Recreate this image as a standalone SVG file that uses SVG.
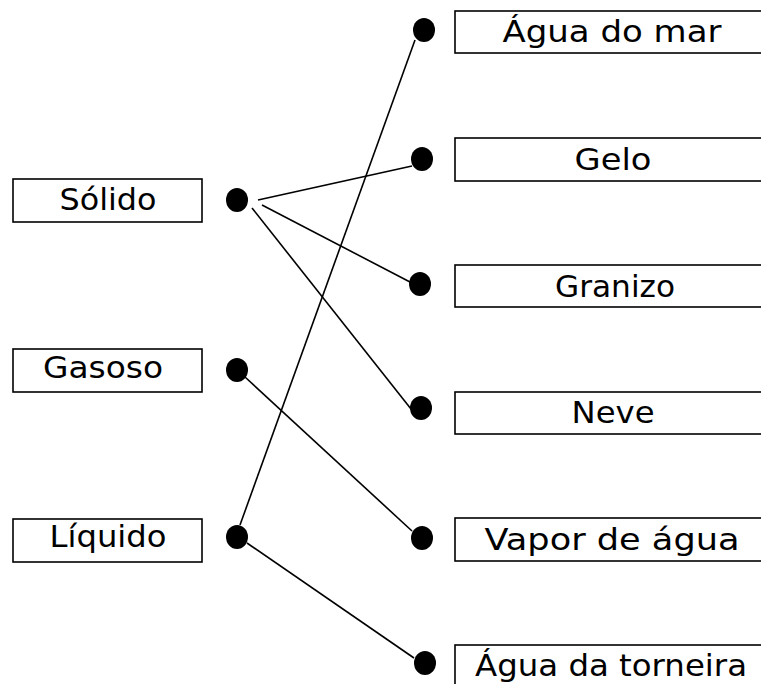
<svg xmlns="http://www.w3.org/2000/svg" width="761" height="684" viewBox="0 0 761 684">
<style>
.box{fill:#fff;stroke:#000;stroke-width:1.6}
.lbl{font-family:"DejaVu Sans","Liberation Sans",sans-serif;font-size:31px;fill:#000;text-anchor:middle}
.dot{fill:#000}
.con line{stroke:#000;stroke-width:1.6;fill:none}
</style>
<rect width="761" height="684" fill="#fff"/>
<g class="con" id="connectors">
<line x1="258" y1="200" x2="412" y2="166"/>
<line x1="262" y1="205" x2="410" y2="282"/>
<line x1="252" y1="208" x2="411" y2="409"/>
<line x1="245" y1="377" x2="412" y2="531"/>
<line x1="240" y1="525" x2="415" y2="40"/>
<line x1="247" y1="543" x2="414" y2="658"/>
</g>
<g id="solido"><rect class="box" x="13" y="179" width="189" height="43"/><text class="lbl" x="108" y="210" textLength="97" lengthAdjust="spacingAndGlyphs">Sólido</text><ellipse class="dot" cx="237" cy="200" rx="11" ry="12"/></g>
<g id="gasoso"><rect class="box" x="13" y="349" width="189" height="43"/><text class="lbl" x="103" y="378" textLength="120" lengthAdjust="spacingAndGlyphs">Gasoso</text><ellipse class="dot" cx="237" cy="370" rx="11" ry="12"/></g>
<g id="liquido"><rect class="box" x="13" y="519" width="189" height="43"/><text class="lbl" x="108" y="547" textLength="117" lengthAdjust="spacingAndGlyphs">Líquido</text><ellipse class="dot" cx="237" cy="537" rx="11" ry="12"/></g>
<g id="agua-mar"><rect class="box" x="455" y="11" width="320" height="42"/><text class="lbl" x="612" y="42" textLength="219" lengthAdjust="spacingAndGlyphs">Água do mar</text><ellipse class="dot" cx="424" cy="30" rx="11" ry="12"/></g>
<g id="gelo"><rect class="box" x="455" y="138" width="320" height="43"/><text class="lbl" x="613" y="170" textLength="77" lengthAdjust="spacingAndGlyphs">Gelo</text><ellipse class="dot" cx="422" cy="159" rx="11" ry="12"/></g>
<g id="granizo"><rect class="box" x="455" y="265" width="320" height="42"/><text class="lbl" x="615" y="297" textLength="120" lengthAdjust="spacingAndGlyphs">Granizo</text><ellipse class="dot" cx="420" cy="284" rx="11" ry="12"/></g>
<g id="neve"><rect class="box" x="455" y="392" width="320" height="42"/><text class="lbl" x="613" y="423" textLength="83" lengthAdjust="spacingAndGlyphs">Neve</text><ellipse class="dot" cx="421" cy="408" rx="11" ry="12"/></g>
<g id="vapor"><rect class="box" x="455" y="518" width="320" height="43"/><text class="lbl" x="612" y="550" textLength="255" lengthAdjust="spacingAndGlyphs">Vapor de água</text><ellipse class="dot" cx="422" cy="538" rx="11" ry="12"/></g>
<g id="agua-torneira"><rect class="box" x="455" y="645" width="320" height="45"/><text class="lbl" x="611" y="676" textLength="272" lengthAdjust="spacingAndGlyphs">Água da torneira</text><ellipse class="dot" cx="425" cy="663" rx="11" ry="12"/></g>
</svg>
